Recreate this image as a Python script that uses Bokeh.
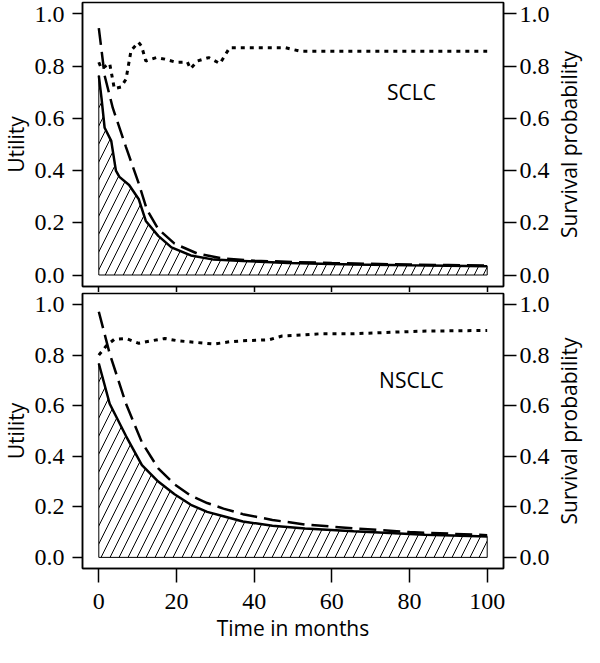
import math
from bokeh.plotting import figure
from bokeh.models import LinearAxis, FixedTicker, PrintfTickFormatter, Range1d, CustomJSTickFormatter
from bokeh.layouts import column, row
from bokeh.embed import file_html
from bokeh.resources import INLINE
from bokeh.core.properties import value

# ---------------- data ----------------
x_ticks = [0, 20, 40, 60, 80, 100]
y_ticks = [0.0, 0.2, 0.4, 0.6, 0.8, 1.0]

panel_names = ["SCLC", "NSCLC"]
label_t = [80.5, 80.5]
label_u = [0.70, 0.70]

left_title = "Utility"
right_title = "Survival probability"
x_title = "Time in months"

# SCLC utility (solid)
sclc_solid_t = [0, 0.7, 1.5, 3.2, 4.4, 5.3, 7.8, 10.3, 12.1, 15.3, 18.7, 23.7, 29.6, 37.1, 48.8, 65.6, 80, 100]
sclc_solid_u = [0.764, 0.677, 0.564, 0.514, 0.40, 0.376, 0.345, 0.29, 0.207, 0.15, 0.106, 0.075, 0.059, 0.054, 0.046, 0.040, 0.037, 0.034]
# SCLC utility (dashed)
sclc_dash_t = [0, 1.5, 3.6, 7, 10.3, 12.4, 15.3, 19.5, 25.4, 32.1, 40, 50, 60, 70, 80, 90, 100]
sclc_dash_u = [0.946, 0.764, 0.64, 0.49, 0.35, 0.25, 0.176, 0.12, 0.082, 0.063, 0.055, 0.05, 0.046, 0.043, 0.04, 0.038, 0.036]
# SCLC survival probability (dotted)
sclc_dot_t = [0, 0.7, 2.8, 4, 5.7, 7, 8.3, 10.2, 11, 12.1, 14.8, 17, 19.9, 22.8, 23.6, 25.4, 28.3, 31.2, 33.7, 48, 52, 100]
sclc_dot_s = [0.815, 0.79, 0.81, 0.714, 0.72, 0.75, 0.86, 0.892, 0.877, 0.82, 0.833, 0.827, 0.815, 0.816, 0.79, 0.82, 0.833, 0.81, 0.871, 0.871, 0.857, 0.857]

# NSCLC utility (solid)
nsclc_solid_t = [0, 2.8, 7, 11.1, 15.3, 19.5, 23.7, 27.9, 32.1, 37.1, 44.7, 53.1, 65.6, 84, 100]
nsclc_solid_u = [0.767, 0.608, 0.48, 0.365, 0.30, 0.25, 0.208, 0.18, 0.163, 0.142, 0.125, 0.114, 0.103, 0.09, 0.083]
# NSCLC utility (dashed)
nsclc_dash_t = [0, 2.8, 7, 11.1, 15.3, 19.5, 23.7, 27.9, 32.1, 37.1, 44.7, 53.1, 65.6, 80, 100]
nsclc_dash_u = [0.972, 0.806, 0.608, 0.455, 0.352, 0.289, 0.244, 0.215, 0.193, 0.171, 0.148, 0.13, 0.115, 0.10, 0.088]
# NSCLC survival probability (dotted)
nsclc_dot_t = [0, 2, 4, 7, 10.3, 13.6, 17, 20.3, 25.4, 29.6, 33.7, 37.1, 43.8, 47.2, 52.3, 57.3, 65.6, 83, 100]
nsclc_dot_s = [0.80, 0.838, 0.863, 0.866, 0.847, 0.857, 0.866, 0.857, 0.85, 0.844, 0.853, 0.857, 0.861, 0.876, 0.88, 0.885, 0.885, 0.895, 0.898]

# ---------------- layout / styling ----------------
TICK_FONT = "Liberation Sans Narrow"
TITLE_FONT = "Open Sans"
TICK_SIZE = "24px"
TITLE_SIZE = "21px"

SIDE_L = 30          # strip holding "Utility"
SIDE_R = 33          # strip holding "Survival probability"
FRAME_W = 421
B_LEFT = 52
B_RIGHT = 48
TOP_H, TOP_BT, TOP_BB = 284, 2, 6
BOT_H, BOT_BT, BOT_BB = 275, 1, 79
TOTAL_H = TOP_BT + TOP_H + TOP_BB + BOT_BT + BOT_H + BOT_BB
panel_centers = [TOP_BT + TOP_H / 2, TOP_BT + TOP_H + TOP_BB + BOT_BT + BOT_H / 2]


def style_axis(ax, tick_out, standoff, show_labels=True):
    ax.axis_line_color = "black"
    ax.axis_line_width = 1.5
    ax.major_tick_line_color = "black"
    ax.major_tick_line_width = 1.5
    ax.major_tick_in = 0
    ax.major_tick_out = tick_out
    ax.minor_tick_in = 0
    ax.minor_tick_out = 0
    ax.minor_tick_line_color = None
    ax.major_label_standoff = standoff
    ax.major_label_text_font = TICK_FONT
    if show_labels:
        ax.major_label_text_color = "black"
        ax.major_label_text_font_size = TICK_SIZE
    else:
        ax.major_label_text_color = None
        ax.major_label_text_font_size = "1px"


def make_panel(idx, st, su, dt, du, pt, ps, frame_h, b_top, b_bottom, bottom_labels):
    p = figure(frame_width=FRAME_W, frame_height=frame_h,
               x_range=Range1d(-4.2, 104.2), y_range=Range1d(-0.044, 1.044),
               output_backend="svg", toolbar_location=None,
               x_axis_location=None, y_axis_location=None,
               min_border_left=B_LEFT, min_border_right=B_RIGHT,
               min_border_top=b_top, min_border_bottom=b_bottom,
               background_fill_color="white", border_fill_color="white")
    p.grid.grid_line_color = None
    p.outline_line_color = "black"
    p.outline_line_width = 1.5
    p.outline_line_alpha = 1.0

    left = LinearAxis(ticker=FixedTicker(ticks=y_ticks), formatter=PrintfTickFormatter(format="%.1f"))
    style_axis(left, 10, 8)
    p.add_layout(left, "left")

    right = LinearAxis(ticker=FixedTicker(ticks=y_ticks), formatter=PrintfTickFormatter(format="%.1f"))
    style_axis(right, 13, 3)
    p.add_layout(right, "right")

    if bottom_labels:
        bottom = LinearAxis(ticker=FixedTicker(ticks=x_ticks), axis_label=x_title)
        style_axis(bottom, 14, 11)
        bottom.axis_label_standoff = 2
        bottom.axis_label_text_font = TITLE_FONT
        bottom.axis_label_text_font_size = TITLE_SIZE
        bottom.axis_label_text_font_style = "normal"
        bottom.axis_label_text_color = "black"
    else:
        bottom = LinearAxis(ticker=FixedTicker(ticks=x_ticks),
                            formatter=CustomJSTickFormatter(code="return ''"))
        style_axis(bottom, 6, 0, show_labels=False)
    p.add_layout(bottom, "below")

    # hatched area under the solid utility curve
    px = [st[0]] + list(st) + [st[-1]]
    py = [0.0] + list(su) + [0.0]
    p.patch(px, py, fill_color=None, line_color="black", line_width=1,
            hatch_pattern="/", hatch_color="black", hatch_weight=1, hatch_scale=18)

    p.line(pt, ps, line_color="black", line_width=3, line_dash="4 5")
    p.line(dt, du, line_color="black", line_width=2.5, line_dash="17 7")
    p.line(st, su, line_color="black", line_width=2.5)

    p.text(x=[label_t[idx]], y=[label_u[idx]], text=[panel_names[idx]],
           text_font=value(TITLE_FONT), text_font_size=TITLE_SIZE,
           text_align="center", text_baseline="middle", text_color="black")
    return p


def side_strip(width, title):
    s = figure(frame_width=width, frame_height=TOTAL_H,
               x_range=Range1d(0, width), y_range=Range1d(TOTAL_H, 0),
               output_backend="svg", toolbar_location=None,
               x_axis_location=None, y_axis_location=None,
               min_border=0, background_fill_color="white", border_fill_color="white")
    s.grid.grid_line_color = None
    s.outline_line_color = None
    s.text(x=[width / 2, width / 2], y=panel_centers, text=[title, title], angle=math.pi / 2,
           text_font=value(TITLE_FONT), text_font_size=TITLE_SIZE,
           text_align="center", text_baseline="middle", text_color="black")
    return s


top = make_panel(0, sclc_solid_t, sclc_solid_u, sclc_dash_t, sclc_dash_u, sclc_dot_t, sclc_dot_s,
                 TOP_H, TOP_BT, TOP_BB, False)
bot = make_panel(1, nsclc_solid_t, nsclc_solid_u, nsclc_dash_t, nsclc_dash_u, nsclc_dot_t, nsclc_dot_s,
                 BOT_H, BOT_BT, BOT_BB, True)

left_strip = side_strip(SIDE_L, left_title)
right_strip = side_strip(SIDE_R, right_title)

layout = row(left_strip, column(top, bot, spacing=0), right_strip, spacing=0)
open("out.html", "w").write(file_html(layout, INLINE))
